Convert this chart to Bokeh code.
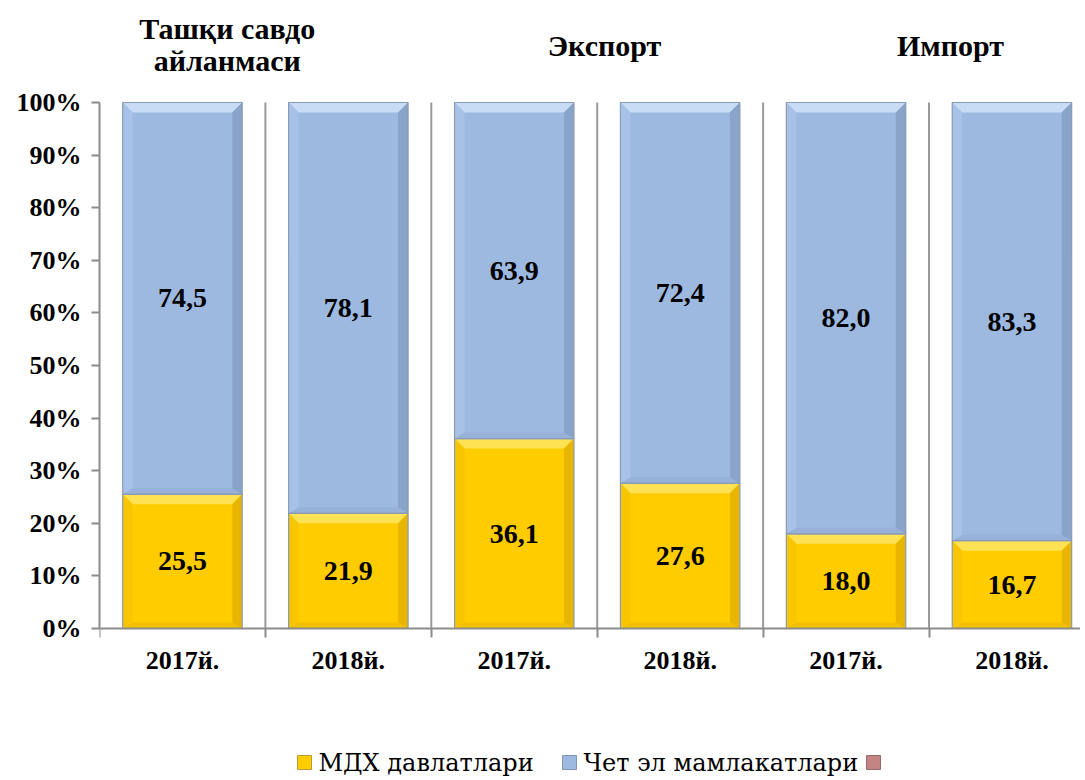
from bokeh.plotting import figure
from bokeh.models import ColumnDataSource, Range1d, FixedTicker, PrintfTickFormatter
from bokeh.core.properties import value
from bokeh.embed import file_html
from bokeh.resources import INLINE

# ---- data ----
years = ["2017й.", "2018й.", "2017й.", "2018й.", "2017й.", "2018й."]
groups = ["Ташқи савдо\nайланмаси", "Экспорт", "Импорт"]
cis = [25.5, 21.9, 36.1, 27.6, 18.0, 16.7]          # МДХ давлатлари
other = [74.5, 78.1, 63.9, 72.4, 82.0, 83.3]        # Чет эл мамлакатлари
third = [0, 0, 0, 0, 0, 0]                          # empty third series
series_names = ["МДХ давлатлари", "Чет эл мамлакатлари", ""]

FONT = "Liberation Serif"
LEG_FONT = "DejaVu Serif"
YELLOW = "#FFCC00"
BLUE = "#9DB9E0"
PINK = "#C48484"
EDGE = "#8A9BB5"
AXIS = "#8c8c8c"
BAR_W = 0.72

def px_x(px):
    return (px - 99) / 165.9

def px_y(py):
    return (628 - py) / 5.26

xs = [i + 0.5 for i in range(len(years))]
src = ColumnDataSource(dict(x=xs, cis=cis, other=other, third=third))

p = figure(width=1080, height=778, output_backend="svg", toolbar_location=None,
           x_range=Range1d(0, px_x(1080)), y_range=Range1d(px_y(778), px_y(0)),
           min_border_left=99, min_border_top=0, min_border_right=0, min_border_bottom=0)
p.outline_line_color = None
p.background_fill_color = "white"
p.xgrid.grid_line_color = None
p.ygrid.grid_line_color = None

sep_x = [1, 2, 3, 4, 5]
p.segment(x0=sep_x, y0=[0] * 5, x1=sep_x, y1=[100] * 5, line_color="#9a9a9a", line_width=2)

p.vbar_stack(["cis", "other", "third"], x="x", width=BAR_W, source=src,
             fill_color=[YELLOW, BLUE, PINK], line_color=None)

dx, dy = 0.06, 1.9
shades = {"y": ("#FFE254", "#F3C000", "#F8C600", "#E8B600"),
          "b": ("#C9DCF5", "#97B1D8", "#A8C2E7", "#8AA3C9")}
bx, by, bc = [], [], []
for x, a, b in zip(xs, cis, other):
    l, rr = x - BAR_W / 2, x + BAR_W / 2
    for bot, top, key in ((0, a, "y"), (a, a + b, "b")):
        t_c, b_c, l_c, r_c = shades[key]
        bx += [[l, rr, rr - dx, l + dx], [l, rr, rr - dx, l + dx],
               [l, l + dx, l + dx, l], [rr, rr - dx, rr - dx, rr]]
        by += [[top, top, top - dy, top - dy], [bot, bot, bot + dy * 0.6, bot + dy * 0.6],
               [bot, bot + dy * 0.6, top - dy, top], [bot, bot + dy * 0.6, top - dy, top]]
        bc += [t_c, b_c, l_c, r_c]
p.patches(bx, by, fill_color=bc, line_color=None)

p.vbar(x=xs, bottom=[0] * 6, top=cis, width=BAR_W, fill_color=None, line_color=EDGE, line_width=1.2)
p.vbar(x=xs, bottom=cis, top=[a + b for a, b in zip(cis, other)], width=BAR_W,
       fill_color=None, line_color=EDGE, line_width=1.2)

lab_x, lab_y, lab_t = [], [], []
for x, a, b in zip(xs, cis, other):
    lab_x += [x, x]
    lab_y += [a / 2, a + b / 2]
    lab_t += [f"{a:.1f}".replace(".", ","), f"{b:.1f}".replace(".", ",")]
p.text(x=lab_x, y=lab_y, text=lab_t, text_align="center", text_baseline="middle",
       text_font=value(FONT), text_font_style="bold", text_font_size="28px", text_color="black")

p.yaxis.ticker = FixedTicker(ticks=list(range(0, 101, 10)))
p.yaxis.bounds = (0, 100)
p.yaxis.formatter = PrintfTickFormatter(format="%d%%")
p.yaxis.major_label_text_font = FONT
p.yaxis.major_label_text_font_style = "bold"
p.yaxis.major_label_text_font_size = "26px"
p.yaxis.major_label_text_color = "black"
p.yaxis.axis_line_color = AXIS
p.yaxis.axis_line_width = 2
p.yaxis.major_tick_line_color = AXIS
p.yaxis.major_tick_line_width = 2
p.yaxis.major_tick_out = 8
p.yaxis.major_tick_in = 0
p.yaxis.minor_tick_line_color = None
p.yaxis.major_label_standoff = 10

p.xaxis.fixed_location = 0
p.xaxis.ticker = FixedTicker(ticks=xs, minor_ticks=list(range(0, 7)))
p.xaxis.major_label_overrides = {x: t for x, t in zip(xs, years)}
p.xaxis.major_label_text_font = FONT
p.xaxis.major_label_text_font_style = "bold"
p.xaxis.major_label_text_font_size = "26px"
p.xaxis.major_label_text_color = "black"
p.xaxis.axis_line_color = AXIS
p.xaxis.axis_line_width = 2
p.xaxis.major_tick_line_color = None
p.xaxis.major_tick_out = 0
p.xaxis.major_tick_in = 0
p.xaxis.minor_tick_line_color = AXIS
p.xaxis.minor_tick_line_width = 2
p.xaxis.minor_tick_out = 9
p.xaxis.minor_tick_in = 0
p.xaxis.major_label_standoff = 8

tx = [0.77, 0.77, 3.044, 5.13]
ty = [114.07, 107.98, 110.84, 110.84]
tt = groups[0].split("\n") + groups[1:]
p.text(x=tx, y=ty, text=tt, text_align="center", text_baseline="middle",
       text_font=value(FONT), text_font_style="bold", text_font_size="30px", text_color="black")

# legend (drawn by hand)
leg_sq_px = [304, 569, 873]
leg_y = px_y(762)
leg_colors = [YELLOW, BLUE, PINK]
p.scatter(x=[px_x(v) for v in leg_sq_px], y=[leg_y] * 3, marker="square", size=14,
          fill_color=leg_colors, line_color=["#B89A3A", "#7F95B5", "#9A6A6A"], line_width=1)
p.text(x=[px_x(v + 14) for v in leg_sq_px[:2]], y=[leg_y] * 2, text=series_names[:2],
       text_align="left", text_baseline="middle", text_font=value(LEG_FONT),
       text_font_size="24px", text_color="black")

open("out.html", "w").write(file_html(p, INLINE))
